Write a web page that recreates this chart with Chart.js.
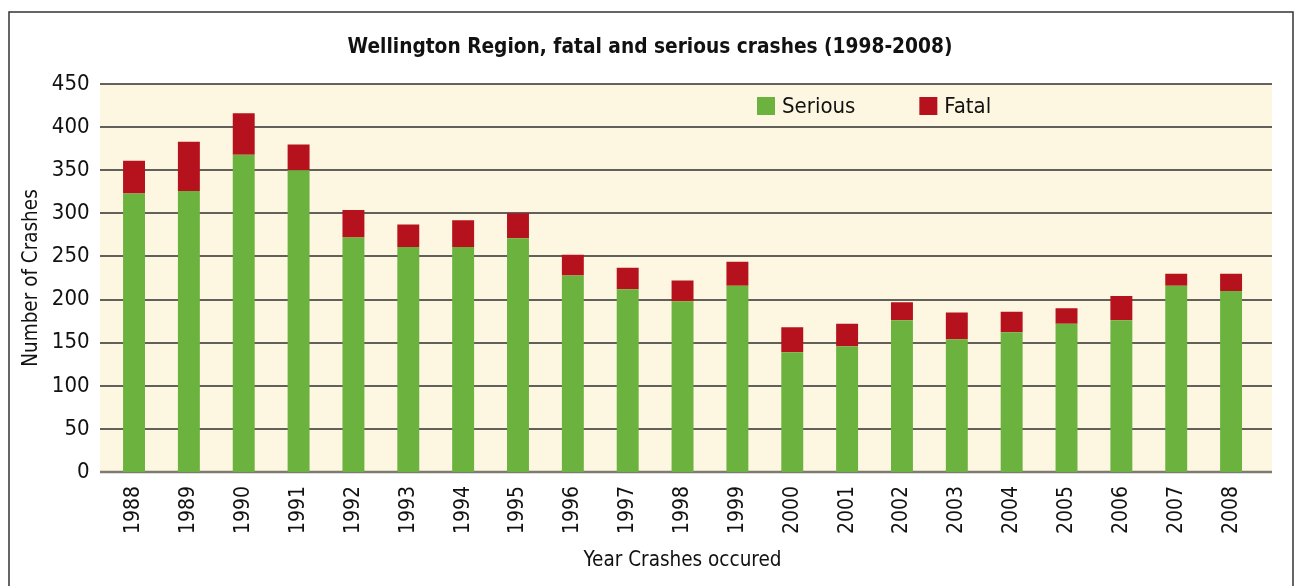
<!DOCTYPE html>
<html>
<head>
<meta charset="utf-8">
<script src="https://cdn.jsdelivr.net/npm/chart.js@4.4.1/dist/chart.umd.min.js"></script>
<style>
  html, body { margin: 0; padding: 0; background: #fff; }
  #wrap { width: 1297px; height: 586px; }
</style>
</head>
<body>
<div id="wrap"><canvas id="crashChart"></canvas></div>
<script>
// years on the x axis
const years = ['1988', '1989', '1990', '1991', '1992', '1993', '1994', '1995', '1996', '1997',
    '1998', '1999', '2000', '2001', '2002', '2003', '2004', '2005', '2006', '2007', '2008'];
// serious crashes (green, bottom of stack)
const serious = [323, 326, 368, 350, 272, 261, 261, 271, 228, 212, 198, 216, 139, 146, 176, 154, 162, 172, 176, 216, 210];
// fatal crashes (red, on top)
const fatal = [38, 57, 48, 30, 32, 26, 31, 29, 24, 25, 24, 28, 29, 26, 21, 31, 24, 18, 28, 14, 20];
// y axis ticks
const yMin = 0;
const yMax = 450;
const yStep = 50;

const FONT = "'Liberation Sans Narrow', 'DejaVu Sans Condensed', 'Liberation Sans', sans-serif";

// cream plot background + horizontal grid (drawn a bit wider than the bars' area)
const plotBack = {
    id: 'plotBack',
    beforeDatasetsDraw(chart) {
        const ctx = chart.ctx;
        const y = chart.scales.y;
        const top = y.getPixelForValue(yMax);
        const bottom = y.getPixelForValue(yMin);
        ctx.save();
        ctx.fillStyle = '#fdf7e1';
        ctx.fillRect(100, top, 1172, bottom - top);
        y.ticks.forEach((t) => {
            const py = Math.round(y.getPixelForValue(t.value));
            ctx.beginPath();
            ctx.strokeStyle = t.value === 0 ? '#7b7b72' : '#2e2e2e';
            ctx.lineWidth = t.value === 0 ? 2.5 : 1.5;
            ctx.moveTo(100, py);
            ctx.lineTo(1272, py);
            ctx.stroke();
        });
        ctx.restore();
    }
};

// outer frame + legend in the top of the plot
const frameLegend = {
    id: 'frameLegend',
    afterDraw(chart) {
        const ctx = chart.ctx;
        ctx.save();
        ctx.strokeStyle = '#333';
        ctx.lineWidth = 1.5;
        ctx.strokeRect(9, 12, 1284, 600);

        ctx.font = '22px ' + FONT;
        ctx.textBaseline = 'middle';
        let x = 757;
        chart.data.datasets.forEach((ds) => {
            ctx.fillStyle = ds.backgroundColor;
            ctx.fillRect(x, 97, 18, 18);
            ctx.fillStyle = '#111';
            ctx.fillText(ds.label, x + 25, 107);
            x += 25 + ctx.measureText(ds.label).width + 64;
        });
        ctx.restore();
    }
};

const ctx = document.getElementById('crashChart');
new Chart(ctx, {
    type: 'bar',
    data: {
        labels: years,
        datasets: [{
            label: 'Serious',
            data: serious,
            backgroundColor: '#6cb23f',
            barPercentage: 0.4,
            categoryPercentage: 1
        }, {
            label: 'Fatal',
            data: fatal,
            backgroundColor: '#b5121e',
            barPercentage: 0.4,
            categoryPercentage: 1
        }]
    },
    options: {
        responsive: true,
        maintainAspectRatio: false,
        animation: false,
        layout: {
            padding: { left: 18, right: 15, top: 0, bottom: 0 }
        },
        plugins: {
            legend: { display: false },
            tooltip: { enabled: false },
            title: {
                display: true,
                text: 'Wellington Region, fatal and serious crashes (1998-2008)',
                color: '#111',
                font: { family: FONT, size: 20.7, weight: 'bold' },
                padding: { top: 35.6, bottom: 23.6 }
            }
        },
        scales: {
            x: {
                stacked: true,
                grid: { display: false, drawTicks: false },
                border: { display: false },
                ticks: {
                    color: '#111',
                    font: { family: FONT, size: 21 },
                    minRotation: 90,
                    maxRotation: 90,
                    padding: 14,
                    autoSkip: false
                },
                title: {
                    display: true,
                    text: 'Year Crashes occured',
                    color: '#111',
                    font: { family: FONT, size: 20.5 },
                    padding: { top: 0, bottom: 12.7 }
                },
                afterFit(scale) { scale.height = 114; }
            },
            y: {
                stacked: true,
                min: yMin,
                max: yMax,
                grid: { display: false, drawTicks: false },
                border: { display: false },
                ticks: {
                    stepSize: yStep,
                    color: '#111',
                    font: { family: FONT, size: 22 },
                    padding: 17
                },
                title: {
                    display: true,
                    text: 'Number of Crashes',
                    color: '#111',
                    font: { family: FONT, size: 20.5 },
                    padding: { top: 1.7, bottom: 0 }
                },
                afterFit(scale) { scale.width = 88.6; }
            },
            y2: {
                position: 'right',
                min: yMin,
                max: yMax,
                grid: { display: false, drawTicks: false },
                border: { display: false },
                ticks: { display: false },
                afterFit(scale) { scale.width = 23.5; }
            }
        }
    },
    plugins: [plotBack, frameLegend]
});
</script>
</body>
</html>
